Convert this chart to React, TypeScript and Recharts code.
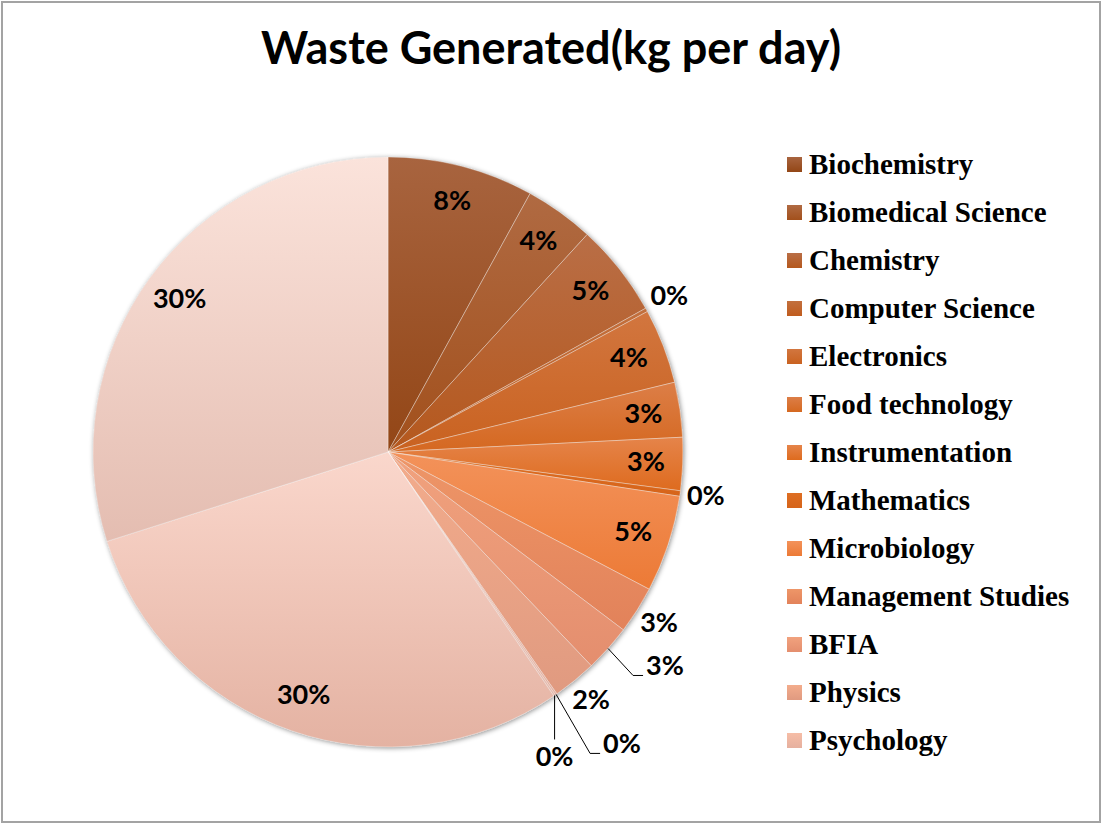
import { Cell, Legend, Pie, PieChart } from 'recharts'

// Waste generated per department (kg per day)
const CATEGORIES = [
	'Biochemistry',
	'Biomedical Science',
	'Chemistry',
	'Computer Science',
	'Electronics',
	'Food technology',
	'Instrumentation',
	'Mathematics',
	'Microbiology',
	'Management Studies',
	'BFIA',
	'Physics',
	'Psychology',
	'Unlisted 1',
	'Unlisted 2',
	'Unlisted 3'
]
const WASTE_KG = [8.0, 3.8, 5.1, 0.2, 4.1, 3.0, 2.9, 0.3, 5.3, 2.6, 2.6, 2.4, 0.1, 0.1, 29.6, 29.9]

// the original legend box only had room for the first 13 names
const LEGEND_ROWS = 13

// gradient stops per slice, light at the top, darker at the bottom
const TOP_COLORS = [
	'#a8643f', '#b06a42', '#b96e46', '#c2703e', '#d2763f', '#dc7e47', '#e5844a', '#de6e22',
	'#f3925a', '#ee9668', '#f1a27e', '#f3ac8c', '#f6bda6', '#f5c6b6', '#fad7cc', '#fbe3db'
]
const BOTTOM_COLORS = [
	'#934616', '#a2501c', '#b5581d', '#c05c1e', '#c96220', '#d56820', '#de6b1e', '#d6641a',
	'#ec7a36', '#e2825a', '#e48e6e', '#e09a80', '#e6b09f', '#e6b8aa', '#e4b2a2', '#e4bdb1'
]

const LABEL_MODE = ['in', 'in', 'in', 'out', 'in', 'in', 'in', 'out', 'in', 'out', 'callout', 'out', 'callout', 'callout', 'in', 'in']
const CALLOUTS: Record<number, { dx: number; dy: number; below?: boolean }> = {
	10: { dx: 25, dy: 27 },
	12: { dx: 34, dy: 59 },
	13: { dx: 0, dy: 44, below: true }
}

const data = CATEGORIES.map((name, i) => ({ name, kg: WASTE_KG[i] }))

const RADIAN = Math.PI / 180
const LABEL_FONT = 27
const labelStyle = {
	fontFamily: 'Lato, "Open Sans", sans-serif',
	fontWeight: 700,
	fontSize: LABEL_FONT,
	fill: '#000'
}

function renderLabel(props: any) {
	const { cx, cy, midAngle, outerRadius, percent, index } = props
	const text = `${Math.round(percent * 100)}%`
	const cos = Math.cos(-midAngle * RADIAN)
	const sin = Math.sin(-midAngle * RADIAN)
	const mode = LABEL_MODE[index]
	const capShift = LABEL_FONT * 0.3

	if (mode !== 'callout') {
		const r = mode === 'in' ? outerRadius * 0.875 : outerRadius + 26
		return (
			<text x={cx + r * cos} y={cy + r * sin + capShift} textAnchor="middle" style={labelStyle}>
				{text}
			</text>
		)
	}

	const c = CALLOUTS[index]
	const ex = cx + outerRadius * cos
	const ey = cy + outerRadius * sin
	const bx = ex + c.dx
	const by = ey + c.dy
	if (c.below) {
		return (
			<g>
				<polyline points={`${ex},${ey} ${bx},${by}`} fill="none" stroke="#000" strokeWidth={1} />
				<text x={bx} y={by + 27} textAnchor="middle" style={labelStyle}>
					{text}
				</text>
			</g>
		)
	}
	return (
		<g>
			<polyline
				points={`${ex},${ey} ${bx},${by} ${bx + 10},${by}`}
				fill="none"
				stroke="#000"
				strokeWidth={1}
			/>
			<text x={bx + 13} y={by} style={labelStyle}>
				{text}
			</text>
		</g>
	)
}

function renderLegend({ payload }: any) {
	// one entry per category, in data order (the shadow pie repeats them)
	const seen = new Set<string>()
	const items = (payload || [])
		.filter((item: any) => {
			if (seen.has(item.value)) return false
			seen.add(item.value)
			return true
		})
		.sort((a: any, b: any) => CATEGORIES.indexOf(a.value) - CATEGORIES.indexOf(b.value))
		.slice(0, LEGEND_ROWS)
	return (
		<div style={{ fontFamily: '"Liberation Serif", "Times New Roman", serif', fontWeight: 700, fontSize: 29 }}>
			{items.map((item: any) => {
				const i = CATEGORIES.indexOf(item.value)
				return (
					<div key={item.value} style={{ position: 'relative', height: 48 }}>
						<span
							style={{
								position: 'absolute',
								left: 0,
								top: 17,
								width: 15,
								height: 15,
								background: `linear-gradient(${TOP_COLORS[i]}, ${BOTTOM_COLORS[i]})`
							}}
						/>
						<span
							style={{
								position: 'absolute',
								left: 22,
								top: 0,
								lineHeight: '48px',
								whiteSpace: 'nowrap',
								color: '#000'
							}}
						>
							{item.value}
						</span>
					</div>
				)
			})}
		</div>
	)
}

export default function App() {
	return (
		<div style={{ position: 'relative', width: 1102, height: 828, background: '#fff' }}>
			<style>{'body { margin: 0; }'}</style>
			<svg width={0} height={0} style={{ position: 'absolute' }}>
				<defs>
					{TOP_COLORS.map((top, i) => (
						<linearGradient key={i} id={`slice-${i}`} x1="0" y1="0" x2="0" y2="1">
							<stop offset="0%" stopColor={top} />
							<stop offset="100%" stopColor={BOTTOM_COLORS[i]} />
						</linearGradient>
					))}
					<filter id="pie-shadow" x="-10%" y="-10%" width="120%" height="120%">
						<feDropShadow dx={1} dy={1} stdDeviation={2.5} floodColor="#000" floodOpacity={0.45} />
					</filter>
				</defs>
			</svg>
			<div
				style={{
					position: 'absolute',
					left: 1,
					top: 1,
					width: 1100,
					height: 822,
					border: '2px solid #a3a3a3',
					boxSizing: 'border-box'
				}}
			/>
			<svg width={1102} height={100} style={{ position: 'absolute', left: 0, top: 0 }}>
				<text
					x={551}
					y={64}
					textAnchor="middle"
					style={{ fontFamily: 'Lato, "Open Sans", sans-serif', fontWeight: 700, fontSize: 45, fill: '#000' }}
				>
					Waste Generated(kg per day)
				</text>
			</svg>
			<div style={{ position: 'absolute', left: 0, top: 0 }}>
				<PieChart width={1102} height={828} margin={{ top: 0, right: 0, bottom: 0, left: 0 }}>
					<Pie
						data={data}
						dataKey="kg"
						nameKey="name"
						cx={388}
						cy={452}
						outerRadius={295}
						startAngle={90}
						endAngle={-270}
						stroke="none"
						legendType="none"
						isAnimationActive={false}
					>
						{data.map((d) => (
							<Cell key={d.name} fill="#bbb" filter="url(#pie-shadow)" />
						))}
					</Pie>
					<Pie
						data={data}
						dataKey="kg"
						nameKey="name"
						cx={388}
						cy={452}
						outerRadius={295}
						startAngle={90}
						endAngle={-270}
						stroke="rgba(255,255,255,0.35)"
						strokeWidth={1}
						label={renderLabel}
						labelLine={false}
						isAnimationActive={false}
					>
						{data.map((d, i) => (
							<Cell key={d.name} fill={`url(#slice-${i})`} />
						))}
					</Pie>
					<Legend
						layout="vertical"
						align="right"
						verticalAlign="top"
						content={renderLegend}
						wrapperStyle={{ position: 'absolute', left: 787, top: 140, width: 315 }}
					/>
				</PieChart>
			</div>
		</div>
	)
}
